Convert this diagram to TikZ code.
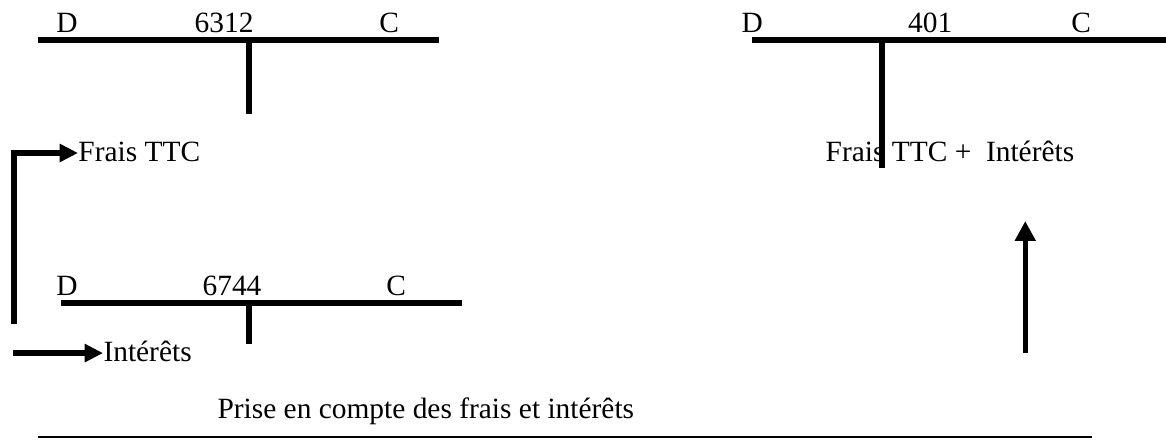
\documentclass[tikz,border=0pt]{standalone}
\usepackage{fontspec}
\setmainfont{Liberation Serif}
\usetikzlibrary{positioning,arrows.meta}

\begin{document}
\begin{tikzpicture}[font=\fontsize{12.2}{14}\selectfont,
  tline/.style={line width=2.4pt},
  flow/.style={line width=2.2pt,-{Triangle[length=7.6pt,width=7.2pt]}},
  hd/.style={anchor=base,inner sep=0pt},
  lbl/.style={anchor=west,inner sep=0pt,text height=7pt,text depth=0pt}]
  \useasboundingbox (0,0) rectangle (17.0,6.402);
  % compte 6312
  \draw[tline](0.554,5.819)--(6.402,5.819);
  \draw[tline](3.631,5.819)--(3.631,4.740);
  \node[hd] (d6312) at (0.977,5.921){D};
  \node[hd] (n6312) at (3.267,5.921){6312};
  \node[hd] (c6312) at (5.673,5.921){C};
  % compte 6744
  \draw[tline](0.890,1.983)--(6.737,1.983);
  \draw[tline](3.631,1.983)--(3.631,1.385);
  \node[hd] (d6744) at (0.977,2.100){D};
  \node[hd] (n6744) at (3.383,2.100){6744};
  \node[hd] (c6744) at (5.775,2.100){C};
  % compte 401
  \node[lbl] (total) at (12.031,4.171){Frais TTC +\ \ Intérêts};
  \draw[tline](10.966,5.819)--(17.0,5.819);
  \draw[tline](12.862,5.819)--(12.862,3.952);
  \node[hd] (d401) at (10.966,5.921){D};
  \node[hd] (n401) at (13.562,5.921){401};
  \node[hd] (c401) at (15.764,5.921){C};
  % flux
  \node[lbl] (ttc) at (1.137,4.171){Frais TTC};
  \node[lbl] (int) at (1.502,1.254){Intérêts};
  \coordinate (s1) at (0.204,1.677);
  \coordinate (s2) at (0.190,1.254);
  \coordinate (s3) at (14.948,1.254);
  \coordinate (t3) at (14.948,3.179);
  \draw[flow](s1)|-(ttc.west);
  \draw[flow](s2)--(int.west);
  \draw[flow,-{Triangle[length=8.2pt,width=8.2pt]}](s3)--(t3);
  % titre
  \node[anchor=base west,inner sep=0pt] (titre) at (3.165,0.306){Prise en compte des frais et intérêts};
  \draw[line width=1pt](0.554,0.029)--(15.925,0.029);
\end{tikzpicture}
\end{document}
